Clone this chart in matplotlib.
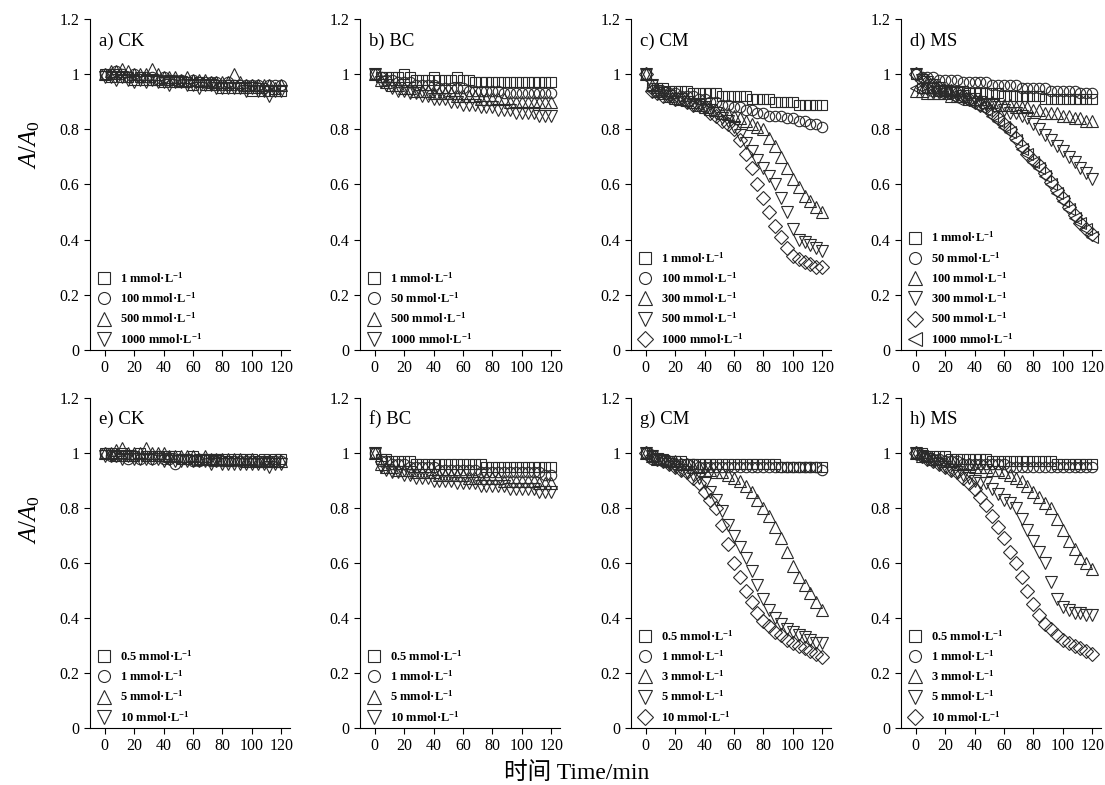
import matplotlib
matplotlib.use("Agg")
import matplotlib.pyplot as plt
from matplotlib.ticker import FuncFormatter

plt.rcParams['font.family'] = ['Liberation Serif', 'Noto Sans CJK SC']
plt.rcParams['mathtext.fontset'] = 'custom'
plt.rcParams['mathtext.rm'] = 'Liberation Serif'
plt.rcParams['mathtext.it'] = 'Liberation Serif:italic'
plt.rcParams['mathtext.bf'] = 'Liberation Serif:bold'

# sampling times (min)
t = [0, 4, 8, 12, 16, 20, 24, 28, 32, 36, 40, 44, 48, 52, 56, 60,
     64, 68, 72, 76, 80, 84, 88, 92, 96, 100, 104, 108, 112, 116, 120]

# a) CK
a_1 = [1.00,0.99,1.00,0.99,0.99,0.98,0.99,0.98,0.98,0.98,0.97,0.98,0.97,0.97,0.97,0.96,0.97,0.96,0.96,0.96,0.95,0.96,0.95,0.95,0.95,0.94,0.95,0.94,0.94,0.94,0.94]
a_100 = [1.00,1.00,1.01,1.00,0.99,1.00,0.99,0.99,0.99,0.98,0.99,0.98,0.98,0.98,0.97,0.98,0.97,0.97,0.97,0.97,0.96,0.97,0.96,0.96,0.96,0.96,0.96,0.95,0.96,0.96,0.96]
a_500 = [1.00,1.01,1.01,1.02,1.01,1.00,1.00,1.00,1.02,1.00,0.99,0.99,0.99,0.98,0.99,0.98,0.98,0.98,0.97,0.97,0.97,0.97,1.00,0.97,0.96,0.96,0.96,0.96,0.96,0.95,0.96]
a_1000 = [0.99,0.99,0.98,0.99,0.98,0.97,0.98,0.97,0.98,0.97,0.97,0.96,0.97,0.97,0.96,0.96,0.95,0.96,0.96,0.95,0.95,0.95,0.95,0.95,0.94,0.95,0.94,0.94,0.92,0.94,0.94]

# b) BC
b_1 = [1.00,0.99,0.99,0.99,0.99,1.00,0.99,0.98,0.98,0.98,0.99,0.98,0.98,0.98,0.99,0.98,0.98,0.97,0.97,0.97,0.97,0.97,0.97,0.97,0.97,0.97,0.97,0.97,0.97,0.97,0.97]
b_50 = [1.00,0.99,0.98,0.98,0.97,0.97,0.97,0.96,0.96,0.96,0.96,0.95,0.95,0.95,0.95,0.95,0.94,0.94,0.94,0.94,0.94,0.94,0.93,0.93,0.93,0.93,0.93,0.93,0.93,0.93,0.93]
b_500 = [1.00,0.98,0.97,0.96,0.96,0.95,0.95,0.94,0.94,0.94,0.93,0.93,0.93,0.93,0.92,0.92,0.92,0.92,0.91,0.91,0.91,0.91,0.91,0.90,0.90,0.90,0.90,0.90,0.90,0.90,0.90]
b_1000 = [1.00,0.97,0.96,0.95,0.94,0.94,0.93,0.93,0.92,0.92,0.91,0.91,0.91,0.90,0.90,0.89,0.89,0.89,0.88,0.88,0.88,0.87,0.87,0.87,0.86,0.86,0.86,0.86,0.85,0.85,0.85]

# c) CM
c_1 = [1.00,0.96,0.95,0.95,0.94,0.94,0.94,0.94,0.93,0.93,0.93,0.93,0.93,0.92,0.92,0.92,0.92,0.92,0.91,0.91,0.91,0.91,0.90,0.90,0.90,0.90,0.89,0.89,0.89,0.89,0.89]
c_100 = [1.00,0.95,0.94,0.94,0.93,0.93,0.92,0.92,0.92,0.91,0.91,0.90,0.90,0.89,0.89,0.88,0.88,0.87,0.87,0.86,0.86,0.85,0.85,0.85,0.84,0.84,0.83,0.83,0.82,0.82,0.81]
c_300 = [1.00,0.96,0.94,0.93,0.92,0.915,0.91,0.905,0.90,0.89,0.88,0.875,0.87,0.86,0.855,0.85,0.84,0.83,0.82,0.81,0.80,0.77,0.74,0.70,0.66,0.62,0.59,0.56,0.54,0.52,0.50]
c_500 = [1.00,0.96,0.94,0.93,0.92,0.91,0.91,0.90,0.89,0.89,0.88,0.87,0.86,0.84,0.83,0.81,0.78,0.75,0.72,0.69,0.66,0.63,0.60,0.55,0.50,0.44,0.40,0.39,0.38,0.37,0.36]
c_1000 = [1.00,0.94,0.93,0.92,0.92,0.91,0.91,0.90,0.89,0.89,0.88,0.86,0.85,0.83,0.82,0.80,0.76,0.71,0.66,0.60,0.55,0.50,0.45,0.41,0.37,0.34,0.33,0.32,0.31,0.30,0.30]

# d) MS
d_1 = [1.00,0.95,0.95,0.95,0.94,0.94,0.94,0.94,0.94,0.93,0.93,0.93,0.93,0.93,0.93,0.92,0.92,0.92,0.92,0.92,0.92,0.92,0.91,0.91,0.91,0.91,0.91,0.91,0.91,0.91,0.91]
d_50 = [1.00,0.99,0.99,0.99,0.98,0.98,0.98,0.98,0.97,0.97,0.97,0.97,0.97,0.96,0.96,0.96,0.96,0.96,0.95,0.95,0.95,0.95,0.95,0.94,0.94,0.94,0.94,0.94,0.93,0.93,0.93]
d_100 = [0.94,0.94,0.93,0.93,0.93,0.93,0.92,0.92,0.92,0.91,0.91,0.91,0.90,0.90,0.89,0.89,0.89,0.88,0.88,0.88,0.87,0.87,0.86,0.86,0.86,0.85,0.85,0.84,0.84,0.83,0.83]
d_300 = [1.00,0.98,0.97,0.96,0.95,0.94,0.93,0.93,0.92,0.91,0.91,0.90,0.89,0.89,0.88,0.87,0.86,0.86,0.85,0.84,0.82,0.80,0.78,0.76,0.74,0.72,0.70,0.68,0.66,0.64,0.62]
d_500 = [1.00,0.98,0.97,0.96,0.95,0.94,0.94,0.93,0.92,0.91,0.90,0.89,0.88,0.86,0.84,0.82,0.80,0.77,0.74,0.71,0.69,0.67,0.64,0.61,0.58,0.55,0.52,0.49,0.46,0.44,0.42]
d_1000 = [0.95,0.95,0.94,0.94,0.93,0.93,0.92,0.91,0.91,0.90,0.89,0.88,0.87,0.85,0.83,0.81,0.79,0.76,0.73,0.71,0.68,0.66,0.63,0.60,0.57,0.54,0.51,0.48,0.46,0.44,0.41]

# e) CK
e_05 = [1.00,1.00,0.99,1.00,0.99,0.99,1.00,0.99,0.99,0.99,0.99,0.99,0.99,0.98,0.98,0.99,0.98,0.98,0.98,0.98,0.98,0.97,0.98,0.98,0.98,0.98,0.97,0.98,0.97,0.98,0.98]
e_1 = [1.00,0.99,0.99,0.99,0.98,0.99,0.98,0.99,0.98,0.99,0.98,0.98,0.96,0.98,0.98,0.97,0.97,0.98,0.97,0.97,0.97,0.97,0.97,0.97,0.97,0.97,0.97,0.97,0.97,0.97,0.97]
e_5 = [1.00,1.00,1.01,1.02,1.00,1.00,1.00,1.02,1.00,1.00,1.00,0.99,0.99,0.99,0.99,0.99,0.98,0.99,0.98,0.98,0.98,0.98,0.98,0.98,0.97,0.98,0.97,0.97,0.97,0.97,0.97]
e_10 = [0.99,0.99,0.99,0.98,0.99,0.98,0.98,0.98,0.98,0.98,0.97,0.98,0.97,0.97,0.97,0.97,0.97,0.97,0.96,0.97,0.96,0.96,0.96,0.96,0.96,0.96,0.96,0.96,0.95,0.96,0.96]

# f) BC
f_05 = [1.00,0.98,0.98,0.97,0.97,0.97,0.97,0.96,0.96,0.96,0.96,0.96,0.96,0.96,0.96,0.96,0.96,0.96,0.96,0.95,0.95,0.95,0.95,0.95,0.95,0.95,0.95,0.95,0.95,0.95,0.95]
f_1 = [1.00,0.97,0.97,0.96,0.96,0.96,0.95,0.95,0.95,0.95,0.95,0.94,0.94,0.94,0.94,0.94,0.94,0.94,0.93,0.93,0.93,0.93,0.93,0.93,0.93,0.93,0.93,0.93,0.93,0.92,0.92]
f_5 = [1.00,0.96,0.95,0.95,0.94,0.94,0.94,0.93,0.93,0.93,0.93,0.92,0.92,0.92,0.92,0.92,0.91,0.91,0.91,0.91,0.91,0.91,0.90,0.90,0.90,0.90,0.90,0.90,0.89,0.89,0.89]
f_10 = [1.00,0.95,0.94,0.93,0.93,0.92,0.92,0.91,0.91,0.91,0.90,0.90,0.90,0.90,0.89,0.89,0.89,0.89,0.88,0.88,0.88,0.88,0.88,0.87,0.87,0.87,0.87,0.87,0.86,0.86,0.86]

# g) CM
g_05 = [1.00,0.99,0.98,0.98,0.97,0.97,0.97,0.96,0.96,0.96,0.96,0.96,0.96,0.96,0.96,0.96,0.96,0.96,0.96,0.96,0.96,0.96,0.96,0.95,0.95,0.95,0.95,0.95,0.95,0.95,0.95]
g_1 = [1.00,0.98,0.98,0.97,0.97,0.96,0.96,0.96,0.96,0.95,0.95,0.95,0.95,0.95,0.95,0.95,0.95,0.95,0.95,0.95,0.95,0.95,0.95,0.95,0.95,0.95,0.95,0.95,0.95,0.95,0.94]
g_3 = [1.00,0.99,0.98,0.98,0.97,0.97,0.96,0.96,0.95,0.95,0.94,0.94,0.93,0.93,0.92,0.91,0.90,0.88,0.86,0.83,0.80,0.77,0.73,0.69,0.64,0.59,0.55,0.52,0.49,0.46,0.43]
g_5 = [1.00,0.99,0.98,0.97,0.96,0.95,0.94,0.93,0.92,0.91,0.89,0.86,0.83,0.79,0.74,0.70,0.66,0.62,0.57,0.52,0.47,0.43,0.40,0.38,0.36,0.35,0.34,0.33,0.32,0.31,0.31]
g_10 = [1.00,0.99,0.98,0.97,0.96,0.95,0.94,0.93,0.91,0.89,0.86,0.83,0.80,0.74,0.67,0.60,0.55,0.50,0.46,0.42,0.39,0.37,0.35,0.34,0.32,0.31,0.30,0.29,0.28,0.27,0.26]

# h) MS
h_05 = [1.00,1.00,0.99,0.99,0.99,0.99,0.98,0.98,0.98,0.98,0.98,0.98,0.98,0.97,0.97,0.97,0.97,0.97,0.97,0.97,0.97,0.97,0.97,0.97,0.96,0.96,0.96,0.96,0.96,0.96,0.96]
h_1 = [1.00,0.99,0.99,0.98,0.98,0.97,0.97,0.97,0.96,0.96,0.96,0.96,0.96,0.96,0.96,0.96,0.95,0.95,0.95,0.95,0.95,0.95,0.95,0.95,0.95,0.95,0.95,0.95,0.95,0.95,0.95]
h_3 = [1.00,0.99,0.99,0.98,0.98,0.97,0.97,0.96,0.96,0.96,0.95,0.95,0.95,0.94,0.94,0.93,0.92,0.91,0.90,0.88,0.86,0.84,0.82,0.80,0.76,0.72,0.68,0.65,0.62,0.60,0.58]
h_5 = [1.00,0.99,0.98,0.97,0.96,0.95,0.94,0.93,0.92,0.91,0.90,0.89,0.89,0.87,0.85,0.83,0.82,0.80,0.76,0.72,0.68,0.64,0.60,0.53,0.47,0.44,0.43,0.42,0.42,0.41,0.41]
h_10 = [1.00,0.99,0.98,0.97,0.96,0.95,0.94,0.93,0.91,0.89,0.87,0.84,0.81,0.77,0.73,0.69,0.64,0.60,0.55,0.50,0.45,0.41,0.38,0.36,0.34,0.32,0.31,0.30,0.29,0.28,0.27]

titles = ['a) CK', 'b) BC', 'c) CM', 'd) MS', 'e) CK', 'f) BC', 'g) CM', 'h) MS']
conc_a = ['1', '100', '500', '1000']
conc_b = ['1', '50', '500', '1000']
conc_c = ['1', '100', '300', '500', '1000']
conc_d = ['1', '50', '100', '300', '500', '1000']
conc_e = ['0.5', '1', '5', '10']
conc_f = ['0.5', '1', '5', '10']
conc_g = ['0.5', '1', '3', '5', '10']
conc_h = ['0.5', '1', '3', '5', '10']

panels = [
    (conc_a, [a_1, a_100, a_500, a_1000]),
    (conc_b, [b_1, b_50, b_500, b_1000]),
    (conc_c, [c_1, c_100, c_300, c_500, c_1000]),
    (conc_d, [d_1, d_50, d_100, d_300, d_500, d_1000]),
    (conc_e, [e_05, e_1, e_5, e_10]),
    (conc_f, [f_05, f_1, f_5, f_10]),
    (conc_g, [g_05, g_1, g_3, g_5, g_10]),
    (conc_h, [h_05, h_1, h_3, h_5, h_10]),
]

markers = ['s', 'o', '^', 'v', 'D', '<']
msizes = [7, 7.5, 8.5, 8.5, 7.5, 8.5]

fig = plt.figure(figsize=(11.05, 7.85), dpi=100)
W, H = 1105, 785
lefts = [90, 360, 631, 901]
rows = [(19, 350), (398, 728)]

for i, (concs, series) in enumerate(panels):
    r, c = divmod(i, 4)
    top, bot = rows[r]
    ax = fig.add_axes([lefts[c] / W, 1 - bot / H, 200 / W, (bot - top) / H])
    for j, (cc, ys) in enumerate(zip(concs, series)):
        ax.plot(t, ys, linestyle='none', marker=markers[j], ms=msizes[j],
                mfc='none', mec='#2a2a2a', mew=0.8,
                label=cc + r' mmol·L$^{\mathbf{-1}}$')
    ax.set_xlim(-10, 126)
    ax.set_ylim(0, 1.2)
    ax.set_xticks([0, 20, 40, 60, 80, 100, 120])
    ax.set_yticks([0, 0.2, 0.4, 0.6, 0.8, 1.0, 1.2])
    ax.yaxis.set_major_formatter(FuncFormatter(lambda v, p: '%g' % round(v, 1)))
    ax.spines['top'].set_visible(False)
    ax.spines['right'].set_visible(False)
    ax.tick_params(direction='out', length=4, width=0.8, labelsize=11.5)
    ax.text(0.045, 0.92, titles[i], transform=ax.transAxes, fontsize=13.5,
            va='baseline', ha='left')
    ax.legend(loc='lower left', bbox_to_anchor=(0, -0.012), frameon=False,
              prop={'weight': 'bold', 'size': 9},
              handlelength=1.0, handletextpad=0.75, labelspacing=0.45,
              borderaxespad=0.4, borderpad=0.22, markerscale=1.15)

fig.text(30 / W, 1 - 145 / H, r'$A/A_\mathrm{0}$', rotation=90, fontsize=18,
         ha='center', va='center')
fig.text(30 / W, 1 - 520 / H, r'$A/A_\mathrm{0}$', rotation=90, fontsize=18,
         ha='center', va='center')
fig.text(577 / W, 1 - 773 / H, '时间 Time/min', fontsize=17, ha='center', va='center')

fig.savefig('out.png', dpi=100)
